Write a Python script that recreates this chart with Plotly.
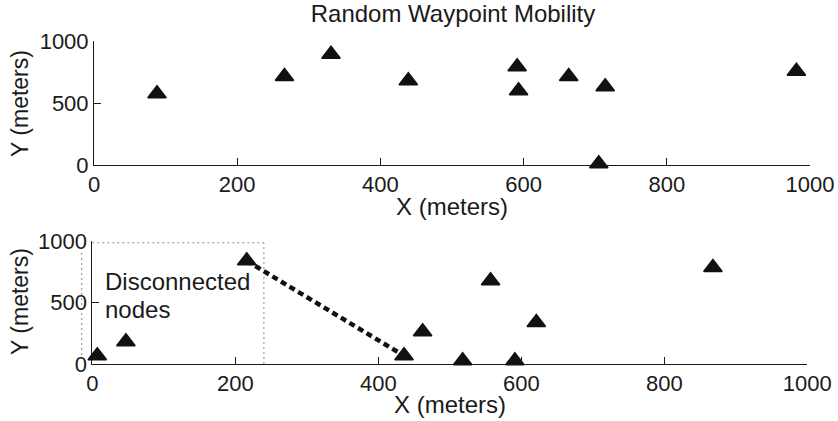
import plotly.graph_objects as go

# ---- data ----
top_x = [88, 266, 331, 439, 591, 593, 663, 714, 981, 705]
top_y = [575, 714, 894, 680, 792, 599, 714, 631, 757, 10]

bottom_x = [7, 47, 216, 436, 462, 518, 557, 621, 591, 868]
bottom_y = [67, 181, 839, 67, 262, 26, 677, 338, 26, 785]

link_x = [216, 436]
link_y = [839, 67]

box_x_max = 240
box_y_max = 985

x_ticks = [0, 200, 400, 600, 800, 1000]
y_ticks = [0, 500, 1000]

note_lines = ["Disconnected", "nodes"]
note_x = 15
note_y = [667, 447]

W, H = 838, 421
FONT = "Liberation Sans, Arial, Helvetica, sans-serif"
INK = "#1a1a1a"

fig = go.Figure()

marker_style = dict(symbol="triangle-up", size=16, color="#111111",
                    line=dict(width=1.5, color="#111111"))

fig.add_trace(go.Scatter(
    x=top_x, y=top_y, mode="markers", xaxis="x", yaxis="y",
    marker=marker_style, cliponaxis=False, showlegend=False, hoverinfo="skip"))

fig.add_trace(go.Scatter(
    x=link_x, y=link_y, mode="lines", xaxis="x2", yaxis="y2",
    line=dict(color="#111111", width=4.5, dash="6px,4px"),
    showlegend=False, hoverinfo="skip"))

fig.add_trace(go.Scatter(
    x=bottom_x, y=bottom_y, mode="markers", xaxis="x2", yaxis="y2",
    marker=marker_style, cliponaxis=False, showlegend=False, hoverinfo="skip"))


def px_x(p):
    return p / W


def px_y(p):
    return 1 - p / H


axis_common = dict(
    showline=True, linecolor=INK, linewidth=1,
    ticks="inside", ticklen=7, tickwidth=1, tickcolor=INK,
    showgrid=False, zeroline=False, mirror=False, automargin=False,
    tickfont=dict(family=FONT, size=22, color=INK),
    layer="below traces", fixedrange=True,
)

fig.update_layout(
    template="none",
    width=W, height=H,
    margin=dict(l=0, r=0, t=0, b=0, autoexpand=False),
    paper_bgcolor="white", plot_bgcolor="white",
    title=dict(text="Random Waypoint Mobility", x=px_x(453), y=px_y(14),
               xanchor="center", yanchor="middle", xref="container", yref="container",
               font=dict(family=FONT, size=24, color=INK)),
    xaxis=dict(domain=[px_x(94), px_x(810)], range=[0, 1000], tickvals=x_ticks,
               anchor="y", **axis_common),
    yaxis=dict(domain=[px_y(165), px_y(41)], range=[0, 1000], tickvals=y_ticks,
               anchor="x", **axis_common),
    xaxis2=dict(domain=[px_x(92.3), px_x(807.3)], range=[0, 1000], tickvals=x_ticks,
                anchor="y2", **axis_common),
    yaxis2=dict(domain=[px_y(364), px_y(241)], range=[0, 1000], tickvals=y_ticks,
                anchor="x2", **axis_common),
)

# axis titles
for cx, cy in [(452, 206), (450, 404)]:
    fig.add_annotation(text="X (meters)", xref="paper", yref="paper",
                       x=px_x(cx), y=px_y(cy), xanchor="center", yanchor="middle",
                       showarrow=False, font=dict(family=FONT, size=24, color=INK))
for cx, cy in [(20, 104), (20, 302)]:
    fig.add_annotation(text="Y (meters)", xref="paper", yref="paper", textangle=-90,
                       x=px_x(cx), y=px_y(cy), xanchor="center", yanchor="middle",
                       showarrow=False, font=dict(family=FONT, size=23, color=INK))

dot_line = dict(color="#8a8a8a", width=1, dash="2px,3px")
fig.add_shape(type="line", xref="x2", yref="y2", x0=box_x_max, x1=box_x_max,
              y0=0, y1=box_y_max, line=dot_line, layer="below")
fig.add_shape(type="line", xref="x2", yref="y2", x0=0, x1=box_x_max,
              y0=box_y_max, y1=box_y_max, line=dot_line, layer="below")
fig.add_shape(type="line", xref="paper", yref="paper", x0=px_x(81.7), x1=px_x(81.7),
              y0=px_y(355), y1=px_y(252), line=dot_line, layer="below")

for txt, ny in zip(note_lines, note_y):
    fig.add_annotation(text=txt, xref="x2", yref="y2", x=note_x, y=ny,
                       xanchor="left", yanchor="middle", align="left", showarrow=False,
                       font=dict(family=FONT, size=24, color=INK))

fig.write_html("out.html", config={"displayModeBar": False},
               post_script="document.body.style.margin='0px';")
